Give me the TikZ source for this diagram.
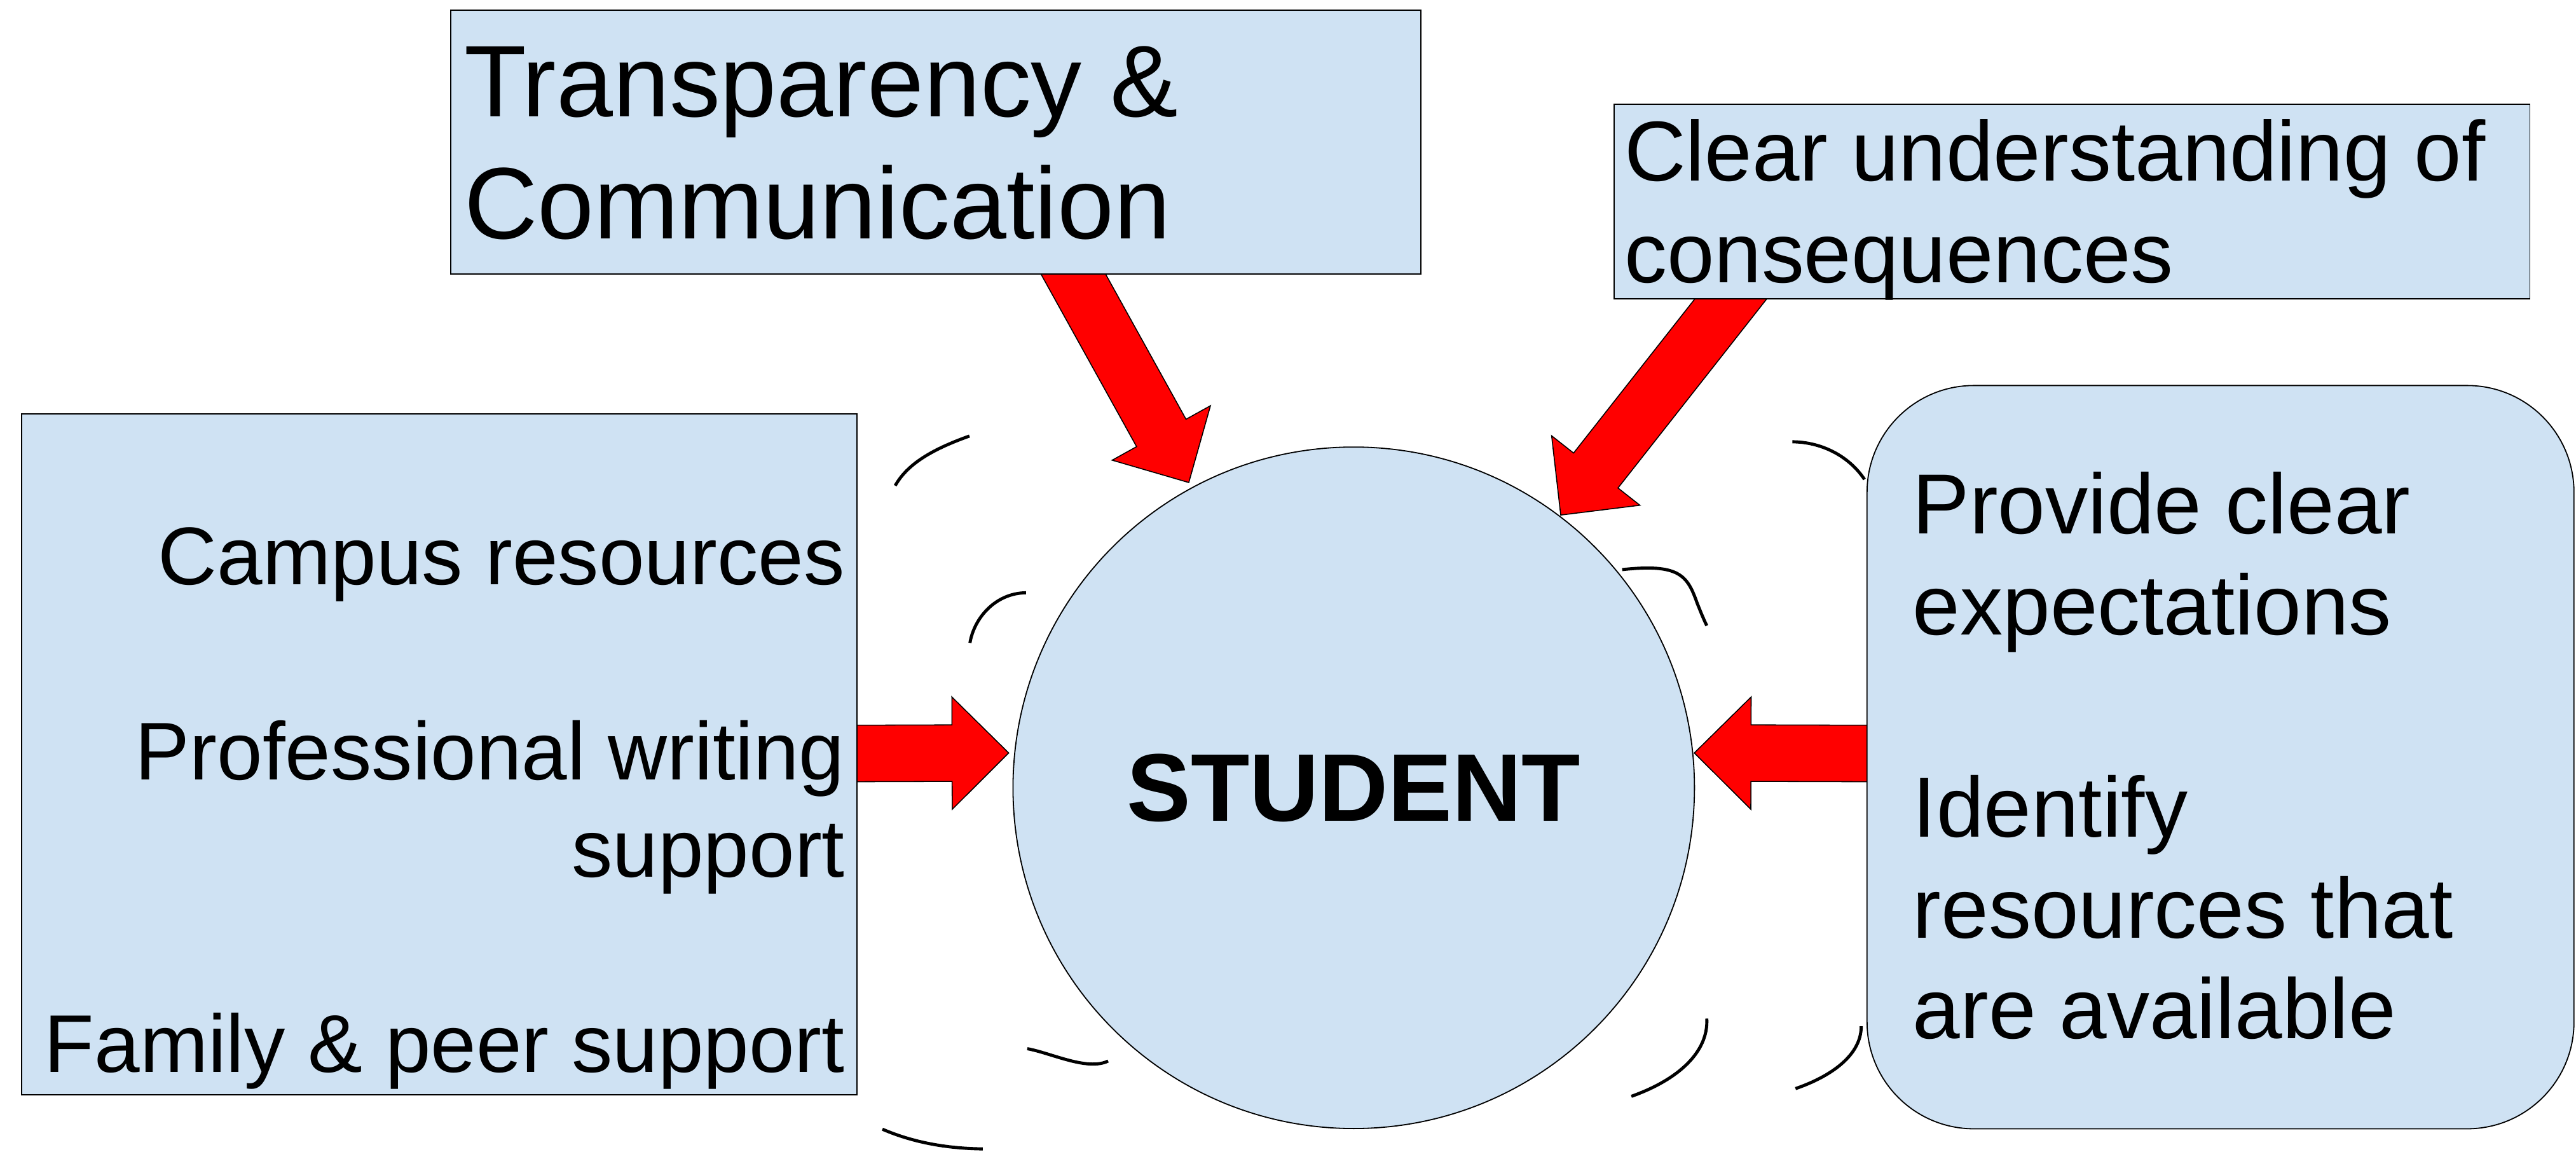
\documentclass[tikz,border=0pt]{standalone}
\usepackage{fontspec}
\setmainfont{Liberation Sans}
\usetikzlibrary{calc}
\definecolor{boxblue}{HTML}{CFE2F3}
\definecolor{arrred}{HTML}{FF0000}
\pgfdeclarelayer{back}
\pgfsetlayers{back,main}
\newcommand\blockarr[2]{%
  \coordinate (#2-b) at ($(#2)!34.5pt!(#1)$);
  \draw[redarrow] ($(#1)!17.2pt!90:(#2)$) -- ($(#2-b)!17.2pt!90:(#2)$) -- ($(#2-b)!34.2pt!90:(#2)$) -- (#2) -- ($(#2-b)!34.2pt!-90:(#2)$) -- ($(#2-b)!17.2pt!-90:(#2)$) -- ($(#1)!17.2pt!-90:(#2)$) -- cycle;}
\begin{document}
\begin{tikzpicture}[x=1pt,y=-1pt,
  box/.style={draw=black, line width=0.7pt, fill=boxblue, inner sep=0pt, anchor=north west},
  redarrow/.style={draw=black, line width=0.6pt, fill=arrred, line join=miter},
  swirl/.style={draw=black, line width=1.9pt},
  txt/.style={inner sep=0pt, outer sep=0pt, text=black}]
\useasboundingbox (0,0) rectangle (1568,701);

% central circle
\node[circle, draw=black, line width=0.7pt, fill=boxblue, minimum size=414.8pt, inner sep=0pt,
      font=\fontsize{58.5}{70}\selectfont\bfseries] (student) at (824,479.5) {STUDENT};

% boxes
\node[box, minimum width=590.5pt, minimum height=160.6pt] (transp) at (274,5.8) {};
\node[box, minimum width=557.6pt, minimum height=118.5pt] (conseq) at (982,63) {};
\node[box, minimum width=508.3pt, minimum height=414.6pt] (support) at (12.9,251.5) {};
\node[box, rounded corners=65pt, minimum width=430.3pt, minimum height=452.4pt] (expect) at (1136.1,234.3) {};

% texts
\node[txt, anchor=base west, font=\fontsize{61.9}{74.5}\selectfont] (transpT) at (282.5,70.9)
  {\begin{tabular}[t]{@{}l@{}}Transparency \&\\Communication\end{tabular}};
\node[txt, anchor=base west, font=\fontsize{51.8}{62}\selectfont] (conseqT) at (988.8,110)
  {\begin{tabular}[t]{@{}l@{}}Clear understanding of\\consequences\end{tabular}};
\node[txt, anchor=base east, font=\fontsize{49.8}{59.4}\selectfont] (supportT) at (514.2,355.7)
  {\begin{tabular}[t]{@{}r@{}}Campus resources\\ \\Professional writing\\support\\ \\Family \& peer support\end{tabular}};
\node[txt, anchor=base west, font=\fontsize{51.9}{61.5}\selectfont] (expectT) at (1164.3,324.8)
  {\begin{tabular}[t]{@{}l@{}}Provide clear\\expectations\\ \\Identify\\resources that\\are available\end{tabular}};

% arrow end points
\coordinate (L0) at ($(support.east)+(-16,-0.5)$);
\coordinate (L1) at ($(student.center)+(-210,-21.2)$);
\coordinate (R0) at ($(expect.west)+(14,-2.2)$);
\coordinate (R1) at ($(student.center)+(207.3,-21.2)$);
\coordinate (A0) at ($(transp.south)+(74.75,-16.4)$);
\coordinate (A1) at ($(student.center)+(-100.4,-185.8)$);
\coordinate (B0) at ($(conseq.south)+(-198.8,-11.5)$);
\coordinate (B1) at ($(student.center)+(126,-166)$);

\begin{pgfonlayer}{back}
\blockarr{L0}{L1}
\blockarr{R0}{R1}
\blockarr{A0}{A1}
\blockarr{B0}{B1}
% swirls around the student
\draw[swirl] (544.9,295.6) .. controls (552,283) and (566,274) .. (590.1,265.4);
\draw[swirl] (590.4,391.3) .. controls (593,376) and (606,361) .. (624.5,360.8);
\draw[swirl] (625.3,638.3) .. controls (640,641) and (662,652) .. (674.5,645.8);
\draw[swirl] (537.1,687.3) .. controls (555,695) and (575,699) .. (598.2,699.3);
\draw[swirl] (987.4,346.7) .. controls (1022,343) and (1027,350) .. (1033,367) .. controls (1035,372) and (1037,377) .. (1038.9,380.8);
\draw[swirl] (1038.9,620) .. controls (1040,640) and (1022,657) .. (993,667.3);
\draw[swirl] (1091,268.9) .. controls (1108,269) and (1125,277) .. (1134.9,291.8);
\draw[swirl] (1132.9,624.6) .. controls (1133,642) and (1115,655) .. (1092.9,662.6);
\end{pgfonlayer}
\end{tikzpicture}
\end{document}
